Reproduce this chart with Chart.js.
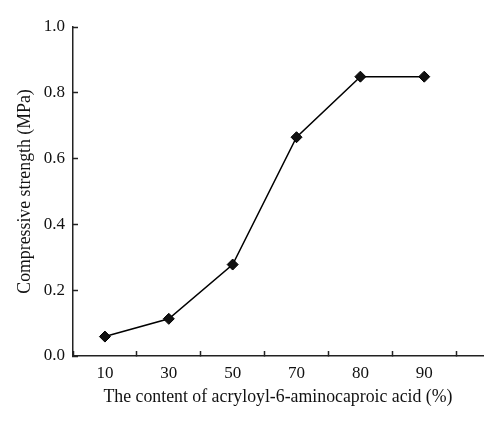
<!DOCTYPE html>
<html lang="en">
<head>
    <meta charset="UTF-8">
    <title>Compressive strength</title>
    <script src="https://cdnjs.cloudflare.com/ajax/libs/Chart.js/4.4.0/chart.umd.min.js"></script>
    <style>
        html, body { margin: 0; padding: 0; background: #fff; }
        #wrap { width: 500px; height: 426px; }
    </style>
</head>
<body>
    <div id="wrap"><canvas id="graph"></canvas></div>

    <script>
        // acid content categories (%) and compressive strength (MPa)
        const contentLabels = ['10', '30', '50', '70', '80', '90'];
        const strength = [0.059, 0.113, 0.278, 0.665, 0.849, 0.849];
        const yTicks = [0, 0.2, 0.4, 0.6, 0.8, 1.0];

        const serif = "'Liberation Serif', 'DejaVu Serif', serif";
        const axisColor = '#222';

        // points sit on index positions so the x axis can run past the last category
        const points = strength.map((v, i) => ({ x: i, y: v }));

        new Chart(document.getElementById('graph'), {
            type: 'line',
            data: {
                datasets: [{
                    data: points,
                    borderColor: '#000',
                    borderWidth: 1.5,
                    backgroundColor: '#000',
                    pointStyle: 'rectRot',
                    pointRadius: 5.5,
                    pointBackgroundColor: '#111',
                    pointBorderColor: '#000',
                    pointBorderWidth: 1,
                    tension: 0,
                    fill: false
                }]
            },
            options: {
                responsive: true,
                maintainAspectRatio: false,
                animation: false,
                layout: { padding: { top: 27, right: 17, left: 0, bottom: 0 } },
                plugins: {
                    legend: { display: false },
                    tooltip: { enabled: false }
                },
                scales: {
                    x: {
                        type: 'linear',
                        min: -0.5,
                        max: 5.92,
                        afterBuildTicks: scale => {
                            scale.ticks = contentLabels.map((_, i) => ({ value: i }));
                        },
                        afterFit: scale => { scale.height = 70; },
                        grid: {
                            offset: true,
                            drawOnChartArea: false,
                            drawTicks: true,
                            tickLength: -5,
                            tickWidth: 1.5,
                            color: axisColor
                        },
                        border: { display: true, color: axisColor, width: 1.5 },
                        ticks: {
                            color: '#111',
                            padding: 12,
                            maxRotation: 0,
                            autoSkip: false,
                            font: { family: serif, size: 17 },
                            callback: value => contentLabels[value]
                        },
                        title: {
                            display: true,
                            text: 'The content of acryloyl-6-aminocaproic acid (%)',
                            color: '#111',
                            font: { family: serif, size: 17.8 },
                            padding: { top: 0, bottom: 18 }
                        }
                    },
                    y: {
                        min: 0,
                        max: 1,
                        afterBuildTicks: scale => {
                            scale.ticks = yTicks.map(v => ({ value: v }));
                        },
                        afterFit: scale => { scale.width = 73; },
                        grid: {
                            drawOnChartArea: false,
                            drawTicks: true,
                            tickLength: -5,
                            tickWidth: 1.5,
                            color: axisColor
                        },
                        border: { display: true, color: axisColor, width: 1.5 },
                        ticks: {
                            color: '#111',
                            padding: 13,
                            font: { family: serif, size: 17 },
                            callback: value => value.toFixed(1)
                        },
                        title: {
                            display: true,
                            text: 'Compressive strength (MPa)',
                            color: '#111',
                            font: { family: serif, size: 17.8 },
                            padding: { top: 15, bottom: 0 }
                        }
                    }
                }
            }
        });
    </script>
</body>
</html>
